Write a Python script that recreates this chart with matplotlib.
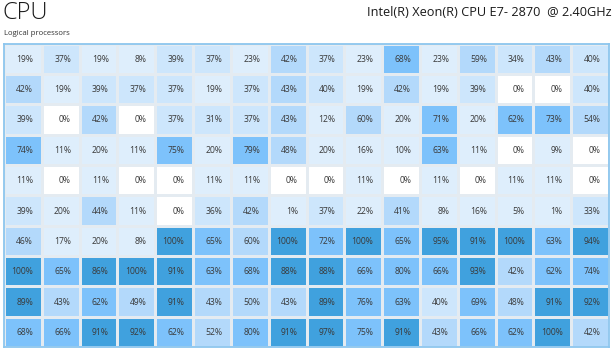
#!/usr/bin/env python3
"""
Per-core utilisation heatmap, task-manager style
"""

import numpy as np
import matplotlib
matplotlib.use('Agg')
import matplotlib.pyplot as plt
from matplotlib.colors import ListedColormap, BoundaryNorm

title = 'CPU'
cpu_name = 'Intel(R) Xeon(R) CPU E7- 2870  @ 2.40GHz'
grid_label = 'Logical processors'

# utilisation (%) of the 160 logical processors, 10 rows x 16 columns
row0 = [19, 37, 19, 8, 39, 37, 23, 42, 37, 23, 68, 23, 59, 34, 43, 40]
row1 = [42, 19, 39, 37, 37, 19, 37, 43, 40, 19, 42, 19, 39, 0, 0, 40]
row2 = [39, 0, 42, 0, 37, 31, 37, 43, 12, 60, 20, 71, 20, 62, 73, 54]
row3 = [74, 11, 20, 11, 75, 20, 79, 48, 20, 16, 10, 63, 11, 0, 9, 0]
row4 = [11, 0, 11, 0, 0, 11, 11, 0, 0, 11, 0, 11, 0, 11, 11, 0]
row5 = [39, 20, 44, 11, 0, 36, 42, 1, 37, 22, 41, 8, 16, 5, 1, 33]
row6 = [46, 17, 20, 8, 100, 65, 60, 100, 72, 100, 65, 95, 91, 100, 63, 94]
row7 = [100, 65, 86, 100, 91, 63, 68, 88, 88, 66, 80, 66, 93, 42, 62, 74]
row8 = [89, 43, 62, 49, 91, 43, 50, 43, 89, 76, 63, 40, 69, 48, 91, 92]
row9 = [68, 66, 91, 92, 62, 52, 80, 91, 97, 75, 91, 43, 66, 62, 100, 42]

usage = np.array([row0, row1, row2, row3, row4, row5, row6, row7, row8, row9])

# load bands
colors = ['#ffffff', '#deeefc', '#cde6fc', '#b3d9fb', '#7dc2fb', '#40a1de']
levels = [0, 0.5, 30.5, 40.5, 61.5, 84.5, 100.5]
cmap = ListedColormap(colors)
norm = BoundaryNorm(levels, ncolors=len(colors))

W, H = 614, 350
fig = plt.figure(figsize=(W / 100, H / 100), dpi=100)
plt.rcParams['font.family'] = ['Open Sans', 'DejaVu Sans']

fig.text(2 / W, 1 - 1 / H, title, fontsize=17, color='#1a1a1a',
         ha='left', va='top', fontweight='light')
fig.text(612 / W, 1 - 6 / H, cpu_name, fontsize=9.2, color='#1a1a1a',
         ha='right', va='top')
fig.text(4 / W, 1 - 30 / H, grid_label, fontsize=5.6, color='#333333',
         ha='left', va='top')

x0, x1, y0, y1 = 4, 609, 43.5, 347
ax = fig.add_axes([x0 / W, 1 - y1 / H, (x1 - x0) / W, (y1 - y0) / H])

nrows, ncols = usage.shape
ax.pcolormesh(np.arange(ncols + 1), np.arange(nrows + 1), usage,
              cmap=cmap, norm=norm, edgecolors='#e4ebf1', linewidth=1.0)
ax.set_xlim(0, ncols)
ax.set_ylim(nrows, 0)

for i in range(nrows):
    for j in range(ncols):
        ax.text(j + 0.77, i + 0.52, f'{usage[i, j]}%', ha='right', va='center',
                fontsize=6.2, color='#3a3a3a')

ax.set_xticks([])
ax.set_yticks([])
for s in ax.spines.values():
    s.set_color('#8cc6ee')
    s.set_linewidth(1.3)

fig.savefig('out.png', dpi=100)
